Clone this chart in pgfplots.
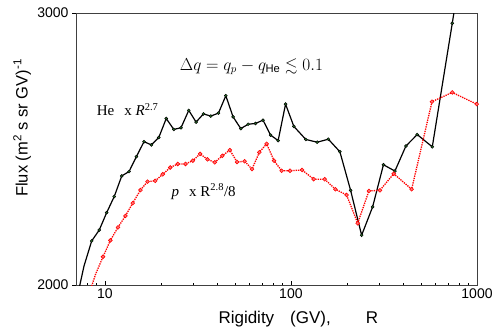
\documentclass[border=0pt]{standalone}
\usepackage{amssymb}
\usepackage{fontspec}
\setmainfont{Liberation Sans}
\newfontfamily\serifr{Liberation Serif}
\usepackage{pgfplots}
\pgfplotsset{compat=1.18}
\definecolor{hemark}{RGB}{40,110,40}
\definecolor{pred}{RGB}{255,0,0}
\begin{document}
\begin{tikzpicture}
\begin{axis}[
 at={(0,0)}, anchor=south west,
 scale only axis, width=401pt, height=272pt,
 xmode=log, xmin=7, xmax=1000,
 ymin=2000, ymax=3000,
 xtick={10,100,1000}, xticklabels={10,100,1000},
 ytick={2000,3000}, yticklabels={2000,3000},
 minor xtick={8,9,20,30,40,50,60,70,80,90,200,300,400,500,600,700,800,900},
 xtick pos=bottom, ytick pos=left,
 xtick align=inside, ytick align=outside,
 major tick length=4pt, minor tick length=2.5pt,
 tick style={black, line width=0.5pt},
 tick label style={font=\fontsize{14}{16}\selectfont},
 axis line style={black!75, line width=0.7pt},
 clip mode=individual,
 xlabel={Rigidity\hspace{16pt}(GV),\hspace{35pt}R},
 xlabel style={at={(axis description cs:0.3466,-0.1408)}, anchor=base west, font=\fontsize{17}{19}\selectfont},
]
\addplot[black, line width=1.2pt, mark=*, mark size=1.5pt, mark indices={2,...,43},
 mark options={solid, fill=hemark, draw=black, line width=0.5pt}] coordinates {
(7.05,1945) (7.73,2070) (8.50,2162) (9.33,2202) (10.23,2266) (11.23,2325)
(12.33,2401) (13.49,2417) (14.78,2472) (16.24,2527) (17.80,2515) (19.49,2542)
(21.38,2612) (23.47,2572) (25.66,2578) (28.25,2642) (30.93,2599) (33.89,2629)
(37.10,2621) (40.81,2632) (44.68,2696) (48.90,2618) (53.79,2575) (58.88,2591)
(64.54,2594) (70.81,2606) (77.80,2551) (85.39,2531) (93.58,2665) (103.7,2583)
(120.3,2535) (138.4,2525) (158.9,2536) (183.3,2490) (209.3,2348) (239.9,2183)
(274.8,2287) (314.2,2442) (362.2,2419) (415.0,2511) (477.3,2553) (575.1,2508)
(736.4,2962) (880,3300)
};
\addplot[pred, line width=1.3pt, densely dotted, mark=*, mark size=1.9pt, mark indices={2,...,41},
 mark options={solid, fill=red!55, draw=pred, line width=0.6pt}] coordinates {
(8.13,1956) (8.91,2039) (9.78,2104) (10.71,2164) (11.77,2212) (12.90,2254)
(14.12,2301) (15.54,2349) (16.96,2380) (18.66,2383) (20.48,2407) (22.47,2432)
(24.66,2445) (27.13,2445) (29.70,2457) (32.51,2482) (35.61,2462) (38.98,2451)
(42.79,2475) (46.95,2496) (51.38,2452) (56.38,2455) (61.80,2426) (67.65,2488)
(74.06,2519) (81.17,2457) (89.18,2420) (98.93,2420) (114.8,2423) (132.6,2389)
(151.8,2389) (173.4,2352) (199.2,2331) (228.5,2227) (262.6,2346) (300.9,2348)
(356.9,2409) (445.5,2352) (572.9,2674) (736.4,2708) (996.3,2665)
};
\node[anchor=base west, inner sep=0pt, font=\fontsize{16}{18}\selectfont] at (axis cs:25.28,2790)
 {$\Delta q = q_p - q_{\mathrm{He}} \lesssim 0.1$};
\node[anchor=base west, inner sep=0pt, font=\serifr\fontsize{15}{17}\selectfont] at (axis cs:9.04,2622)
 {He\hspace{10pt}x \textit{R}\textsuperscript{2.7}};
\node[anchor=base west, inner sep=0pt, font=\serifr\fontsize{15}{17}\selectfont] at (axis cs:22.8,2327)
 {\textit{p}\hspace{10pt}x R\textsuperscript{2.8}/8};
\end{axis}
\node[rotate=90, anchor=base west, inner sep=0pt, font=\fontsize{16.5}{19}\selectfont] at (-48.3pt,88pt)
 {Flux (m\textsuperscript{2} s sr GV)\textsuperscript{-1}};
\pgfresetboundingbox
\path (-76pt,-42pt) rectangle (417pt,285pt);
\end{tikzpicture}
\end{document}
